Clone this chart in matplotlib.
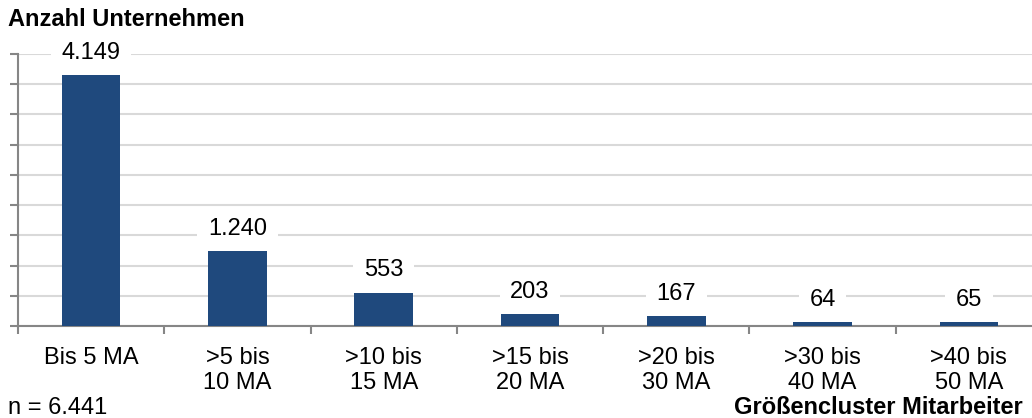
import numpy as np
import matplotlib
matplotlib.use("Agg")
import matplotlib.pyplot as plt

plt.rcParams['font.family'] = ['Liberation Sans', 'DejaVu Sans']

# Anzahl Unternehmen je Größencluster
clusters = ['Bis 5 MA', '>5 bis\n10 MA', '>10 bis\n15 MA', '>15 bis\n20 MA',
            '>20 bis\n30 MA', '>30 bis\n40 MA', '>40 bis\n50 MA']
counts = [4149, 1240, 553, 203, 167, 64, 65]
n_total = '6.441'

fig = plt.figure(figsize=(10.32, 4.18), dpi=100)
ax = fig.add_axes([18 / 1032, 92 / 418, 1024 / 1032, 272 / 418])

x = np.arange(len(clusters))
ax.bar(x, counts, width=0.4, color='#1f497d', zorder=3)

for xi, val in zip(x, counts):
    label = f"{val:,}".replace(',', '.')
    ax.annotate(label, (xi, val), xytext=(0, 16), textcoords='offset points',
                ha='center', va='center', fontsize=17, zorder=4,
                bbox=dict(boxstyle='square,pad=0.45', fc='white', ec='none'))

ax.set_xlim(-0.5, len(clusters) - 0.5)
ax.set_ylim(0, 4500)
ax.set_yticks(np.arange(0, 4501, 500))
ax.set_yticklabels([])
ax.yaxis.grid(True, color='#d9d9d9', linewidth=1.5, zorder=0)

# Striche an den Klassengrenzen, Beschriftung in der Mitte
ax.set_xticks(np.arange(-0.5, len(clusters), 1.0))
ax.set_xticklabels([])
ax.set_xticks(x, minor=True)
ax.set_xticklabels(clusters, minor=True, fontsize=17, linespacing=1.2)
ax.tick_params(axis='x', which='minor', length=0, pad=15)
ax.tick_params(axis='x', which='major', length=6, width=1.5, color='#868686', direction='out')
ax.tick_params(axis='y', length=6, width=1.5, color='#868686', direction='out')

for side in ['top', 'right']:
    ax.spines[side].set_visible(False)
for side in ['left', 'bottom']:
    ax.spines[side].set_color('#868686')
    ax.spines[side].set_linewidth(1.5)

fig.text(8 / 1032, 1 - 20 / 418, 'Anzahl Unternehmen', fontsize=17,
         fontweight='bold', ha='left', va='center')
fig.text(8 / 1032, 1 - 408 / 418, f'n = {n_total}', fontsize=17,
         ha='left', va='center')
fig.text(1023 / 1032, 1 - 408 / 418, 'Größencluster Mitarbeiter', fontsize=17,
         fontweight='bold', ha='right', va='center')

fig.savefig('out.png', dpi=100)
